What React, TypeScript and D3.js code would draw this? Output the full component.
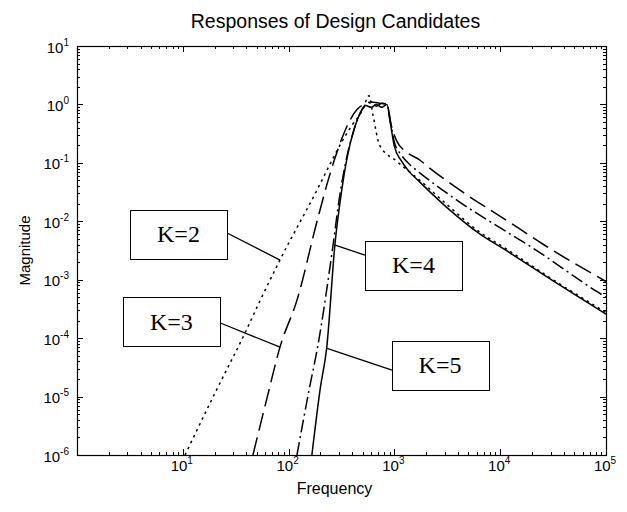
import React, { useEffect, useRef } from "react";
import * as d3 from "d3";

const WIDTH = 627;
const HEIGHT = 512;
const PLOT = { left: 77, right: 606, top: 46, bottom: 455 };

// frequency (Hz) / magnitude pairs
const k2Freq = [10.5, 20, 39, 54, 83, 190, 250, 316, 400, 500, 575, 630, 725, 1050, 1740, 3160, 6450, 10700, 31600, 100000];
const k2Mag = [1e-6, 1.12e-5, 1.26e-4, 4.47e-4, 2.19e-3, 0.0372, 0.1, 0.224, 0.447, 0.794, 1.41, 0.631, 0.2, 0.107, 0.0501, 0.0191, 6.46e-3, 3.63e-3, 1e-3, 2.75e-4];

const k3Freq = [46, 63, 83, 120, 190, 250, 316, 380, 447, 513, 603, 724, 851, 933, 1047, 1318, 1738, 2089, 3890, 14454, 26303, 100000];
const k3Mag = [1e-6, 1e-5, 7.08e-5, 4.47e-4, 0.01175, 0.0708, 0.251, 0.537, 0.832, 1.0, 1.096, 1.047, 1.0, 0.447, 0.24, 0.151, 0.112, 0.0851, 0.0372, 7.94e-3, 3.89e-3, 9.33e-4];

const k4Freq = [120, 158, 186, 263, 302, 355, 417, 479, 537, 603, 676, 759, 851, 912, 1000, 1148, 1380, 1738, 3981, 11482, 20417, 83176, 100000];
const k4Mag = [1e-6, 1.45e-5, 6.31e-5, 3.89e-3, 0.0251, 0.126, 0.38, 0.741, 1.0, 1.07, 0.933, 1.047, 1.0, 0.525, 0.224, 0.141, 0.0955, 0.0676, 0.0224, 6.61e-3, 3.47e-3, 6.17e-4, 5.01e-4];

const k5Freq = [166, 200, 229, 275, 316, 363, 417, 479, 537, 603, 676, 759, 851, 912, 1000, 1148, 1380, 1738, 3162, 6457, 10715, 31623, 100000];
const k5Mag = [1e-6, 1.45e-5, 6.76e-5, 4.27e-3, 0.0316, 0.141, 0.38, 0.724, 0.955, 0.891, 1.0, 0.891, 1.0, 0.501, 0.191, 0.112, 0.0708, 0.0468, 0.017, 6.03e-3, 3.39e-3, 9.55e-4, 2.57e-4];

const xTickExps = [1, 2, 3, 4, 5];
const yTickExps = [1, 0, -1, -2, -3, -4, -5, -6];

// annotation boxes: label, box centre, pointer start and pointer end (freq, mag)
const labels = ["K=2", "K=3", "K=4", "K=5"];
const boxFreq = [9.1, 7.8, 1514, 2698];
const boxMag = [6.0e-3, 1.92e-4, 1.78e-3, 3.45e-5];
const fromFreq = [26.2, 23, 527, 949];
const fromMag = [6.3e-3, 1.8e-4, 2.64e-3, 2.83e-5];
const toFreq = [83, 83, 275, 231];
const toMag = [2.17e-3, 7.0e-5, 3.9e-3, 6.7e-5];

const series = [
  { freq: k2Freq, mag: k2Mag, dash: "2.5,4" },
  { freq: k3Freq, mag: k3Mag, dash: "18,7" },
  { freq: k4Freq, mag: k4Mag, dash: "13,4,2,4" },
  { freq: k5Freq, mag: k5Mag, dash: null },
];

const FONT = "'Liberation Sans', Arial, sans-serif";

function Chart() {
  const ref = useRef(null);

  useEffect(() => {
    const svg = d3.select(ref.current);
    svg.selectAll("*").remove();

    const x = d3.scaleLog().domain([1, 1e5]).range([PLOT.left, PLOT.right]);
    const y = d3.scaleLog().domain([1e-6, 10]).range([PLOT.bottom, PLOT.top]);

    svg.append("rect").attr("width", WIDTH).attr("height", HEIGHT).attr("fill", "#fff");

    svg
      .append("clipPath")
      .attr("id", "plot-clip")
      .append("rect")
      .attr("x", PLOT.left)
      .attr("y", PLOT.top)
      .attr("width", PLOT.right - PLOT.left)
      .attr("height", PLOT.bottom - PLOT.top);

    // ticks, inward on all four sides
    const ticks = svg.append("g").attr("stroke", "#000").attr("stroke-width", 1);
    const isMajor = (v) => Math.abs(Math.log10(v) - Math.round(Math.log10(v))) < 1e-9;

    x.ticks().forEach((v) => {
      const len = isMajor(v) ? 6 : 3;
      const px = Math.round(x(v)) + 0.5;
      ticks.append("line").attr("x1", px).attr("x2", px).attr("y1", PLOT.bottom).attr("y2", PLOT.bottom - len);
      ticks.append("line").attr("x1", px).attr("x2", px).attr("y1", PLOT.top).attr("y2", PLOT.top + len);
    });
    y.ticks().forEach((v) => {
      const len = isMajor(v) ? 6 : 3;
      const py = Math.round(y(v)) + 0.5;
      ticks.append("line").attr("x1", PLOT.left).attr("x2", PLOT.left + len).attr("y1", py).attr("y2", py);
      ticks.append("line").attr("x1", PLOT.right).attr("x2", PLOT.right - len).attr("y1", py).attr("y2", py);
    });

    // curves
    const line = d3
      .line()
      .x((d) => x(d[0]))
      .y((d) => y(d[1]))
      .curve(d3.curveMonotoneX);

    const curves = svg.append("g").attr("clip-path", "url(#plot-clip)");
    series.forEach((s) => {
      curves
        .append("path")
        .datum(s.freq.map((f, i) => [f, s.mag[i]]))
        .attr("fill", "none")
        .attr("stroke", "#000")
        .attr("stroke-width", 1.5)
        .attr("stroke-dasharray", s.dash)
        .attr("d", line);
    });

    // frame
    svg
      .append("rect")
      .attr("x", PLOT.left + 0.5)
      .attr("y", PLOT.top + 0.5)
      .attr("width", PLOT.right - PLOT.left)
      .attr("height", PLOT.bottom - PLOT.top)
      .attr("fill", "none")
      .attr("stroke", "#000")
      .attr("stroke-width", 1.2);

    // tick labels
    svg
      .append("g")
      .selectAll("text")
      .data(xTickExps)
      .join("text")
      .attr("x", (d) => x(10 ** d) - 1)
      .attr("y", PLOT.bottom + 16)
      .attr("text-anchor", "middle")
      .attr("font-family", FONT)
      .attr("font-size", 15)
      .call((t) => {
        t.append("tspan").text("10");
        t.append("tspan").attr("dy", -7).attr("font-size", 10).text((d) => d);
      });

    svg
      .append("g")
      .selectAll("text")
      .data(yTickExps)
      .join("text")
      .attr("x", PLOT.left - 8)
      .attr("y", (d) => y(10 ** d) + 6.5)
      .attr("text-anchor", "end")
      .attr("font-family", FONT)
      .attr("font-size", 15)
      .call((t) => {
        t.append("tspan").text("10");
        t.append("tspan").attr("dy", -7).attr("font-size", 10).text((d) => d);
      });

    // annotations
    const notes = svg.append("g");
    labels.forEach((label, i) => {
      const cx = x(boxFreq[i]);
      const cy = y(boxMag[i]);
      notes
        .append("line")
        .attr("x1", x(fromFreq[i]))
        .attr("y1", y(fromMag[i]))
        .attr("x2", x(toFreq[i]))
        .attr("y2", y(toMag[i]))
        .attr("stroke", "#000")
        .attr("stroke-width", 1.3);
      notes
        .append("rect")
        .attr("x", Math.round(cx - 48.5) + 0.5)
        .attr("y", Math.round(cy - 24.5) + 0.5)
        .attr("width", 97)
        .attr("height", 49)
        .attr("fill", "#fff")
        .attr("stroke", "#000")
        .attr("stroke-width", 1);
      notes
        .append("text")
        .attr("x", cx)
        .attr("y", cy + 8)
        .attr("text-anchor", "middle")
        .attr("font-family", "'Liberation Serif', 'Times New Roman', serif")
        .attr("font-size", 24)
        .text(label);
    });

    // titles
    svg
      .append("text")
      .attr("x", (PLOT.left + PLOT.right) / 2 - 6)
      .attr("y", 28)
      .attr("text-anchor", "middle")
      .attr("font-family", FONT)
      .attr("font-size", 19.5)
      .text("Responses of Design Candidates");

    svg
      .append("text")
      .attr("x", (PLOT.left + PLOT.right) / 2 - 7)
      .attr("y", 494)
      .attr("text-anchor", "middle")
      .attr("font-family", FONT)
      .attr("font-size", 16)
      .text("Frequency");

    svg
      .append("text")
      .attr("transform", `translate(30,${(PLOT.top + PLOT.bottom) / 2}) rotate(-90)`)
      .attr("text-anchor", "middle")
      .attr("font-family", FONT)
      .attr("font-size", 15)
      .text("Magnitude");
  }, []);

  return (
    <svg
      ref={ref}
      width={WIDTH}
      height={HEIGHT}
      style={{ position: "absolute", left: 0, top: 0, display: "block" }}
    />
  );
}

export default function App() {
  return <Chart />;
}
